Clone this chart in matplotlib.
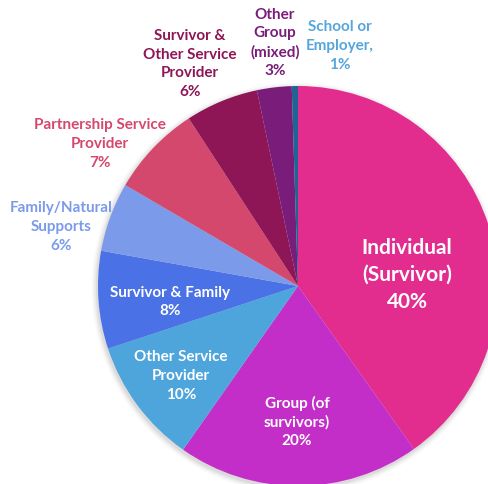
import matplotlib.pyplot as plt
from matplotlib.patches import Circle

# data (share of responses, %), clockwise from 12 o'clock
categories = ['Individual\n(Survivor)', 'Group (of\nsurvivors)', 'Other Service\nProvider',
              'Survivor & Family', 'Family/Natural\nSupports', 'Partnership Service\nProvider',
              'Survivor &\nOther Service\nProvider', 'Other\nGroup\n(mixed)', 'School or\nEmployer,']
values = [40.2, 19.6, 10.2, 7.9, 5.6, 7.4, 5.9, 2.8, 0.5]
pct_labels = ['40%', '20%', '10%', '8%', '6%', '7%', '6%', '3%', '1%']

colors = ['#E32D8E', '#C42EC8', '#4EA5DC', '#4A72E6', '#7B9AEA',
          '#D5486E', '#8E1556', '#7A1D7A', '#1F6494']
text_colors = ['white', 'white', 'white', 'white', '#7B9AEA',
               '#D5486E', '#8E1556', '#7A1D7A', '#56A6DC']

# label anchor positions in image pixels (x, y from top)
label_pos = [(407, 275), (297, 422), (181, 376), (170, 302), (61, 227),
             (100, 144), (190, 64), (275, 43), (340, 46)]
label_size = [15, 11, 11, 11, 11, 11, 11, 11, 11]

W, H = 488, 485
cx, cy, R = 298, 287, 200

plt.rcParams['font.family'] = ['Lato', 'DejaVu Sans']

fig = plt.figure(figsize=(W / 100, H / 100), dpi=100)
ax = fig.add_axes([0, 0, 1, 1])

# soft shadow behind the pie
for i, a in enumerate([0.05, 0.04, 0.03, 0.02]):
    ax.add_patch(Circle((cx - 1, H - cy - 2), R + 1 + i * 1.5, color='black',
                        alpha=a, lw=0, zorder=0))

ax.pie(values, colors=colors, startangle=90, counterclock=False,
       center=(cx, H - cy), radius=R,
       wedgeprops=dict(linewidth=0))

for cat, pct, (x, y), col, fs in zip(categories, pct_labels, label_pos,
                                      text_colors, label_size):
    ax.text(x, H - y, cat + '\n' + pct, ha='center', va='center', color=col,
            fontsize=fs, fontweight='bold', linespacing=1.42, zorder=5)

ax.set_xlim(0, W)
ax.set_ylim(0, H)
ax.set_aspect('equal')
ax.axis('off')

fig.savefig('out.png', dpi=100)
